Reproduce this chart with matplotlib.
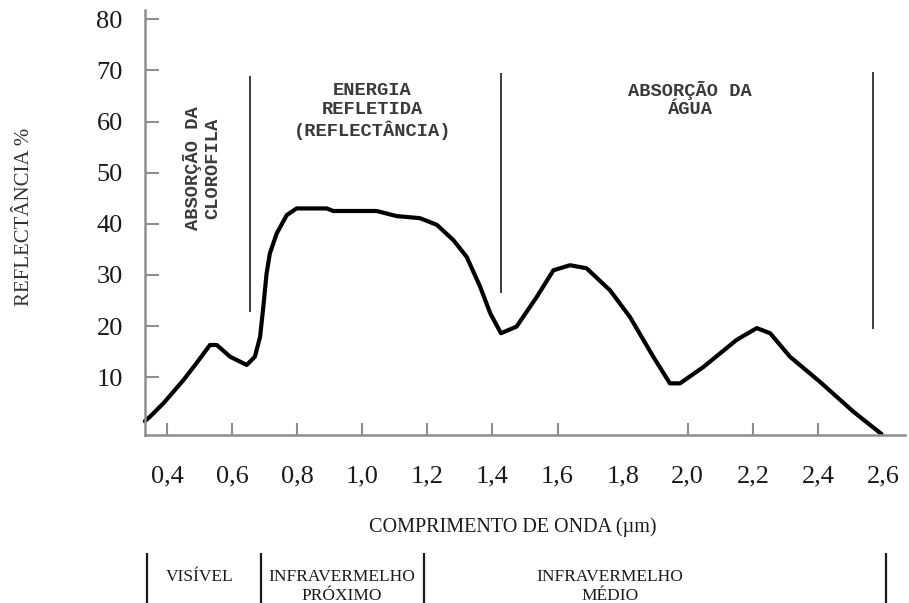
#!/usr/bin/env python3
"""Curva de reflectância espectral da vegetação (recriação do gráfico)."""

import matplotlib.pyplot as plt
from matplotlib.transforms import blended_transform_factory

# valores (comprimento de onda em µm, reflectância em %)
wavelength = [0.332, 0.348, 0.389, 0.450, 0.490, 0.532, 0.553, 0.594, 0.645,
              0.670, 0.686, 0.696, 0.706, 0.716, 0.737, 0.768, 0.798, 0.891,
              0.911, 1.044, 1.106, 1.177, 1.229, 1.280, 1.321, 1.362, 1.393,
              1.426, 1.474, 1.536, 1.587, 1.638, 1.689, 1.761, 1.822, 1.894,
              1.945, 1.976, 2.048, 2.150, 2.212, 2.253, 2.314, 2.406, 2.508,
              2.595]
reflectance = [1.4, 2.3, 4.9, 9.4, 12.7, 16.3, 16.3, 14.0, 12.4,
               14.0, 17.9, 23.8, 30.3, 34.2, 38.1, 41.7, 43.0, 43.0,
               42.5, 42.5, 41.5, 41.1, 39.8, 36.8, 33.5, 27.7, 22.5,
               18.6, 19.9, 25.7, 30.9, 31.9, 31.3, 27.0, 21.8, 14.0,
               8.8, 8.8, 12.0, 17.3, 19.6, 18.6, 14.0, 9.1, 3.3,
               -1.1]

x_ticks = [0.4, 0.6, 0.8, 1.0, 1.2, 1.4, 1.6, 1.8, 2.0, 2.2, 2.4, 2.6]
x_tick_labels = ["0,4", "0,6", "0,8", "1,0", "1,2", "1,4", "1,6", "1,8",
                 "2,0", "2,2", "2,4", "2,6"]
y_ticks = [10, 20, 30, 40, 50, 60, 70, 80]

# linhas verticais que separam as zonas de absorção
separator_x = [0.655, 1.425, 2.568]
separator_top = [68.9, 69.5, 69.7]
separator_bottom = [22.7, 26.5, 19.4]

# faixas do espectro (rodapé)
region_edges = [0.34, 0.69, 1.19, 2.61]
region_names = ["VISÍVEL", "INFRAVERMELHO\nPRÓXIMO", "INFRAVERMELHO\nMÉDIO"]

SERIF = ["Liberation Serif", "DejaVu Serif"]
MONO = ["Liberation Mono", "DejaVu Sans Mono"]
AXIS_GRAY = "#8e8e8e"
INK = "#1a1a1a"


def main():
    fig = plt.figure(figsize=(9.09, 6.03), dpi=100)
    ax = fig.add_axes([0.1595, 0.2786, 0.836, 0.7048])
    ax.set_xlim(0.3324, 2.667)
    ax.set_ylim(-1.3, 81.8)

    for side in ("top", "right"):
        ax.spines[side].set_visible(False)
    for side in ("left", "bottom"):
        ax.spines[side].set_color(AXIS_GRAY)
        ax.spines[side].set_linewidth(1.8)

    ax.plot(wavelength, reflectance, color="black", lw=3.0,
            solid_joinstyle="round", solid_capstyle="round", clip_on=False)

    ax.vlines(separator_x, separator_bottom, separator_top, color=INK, lw=1.2)

    # eixos
    ax.set_xticks(x_ticks, x_tick_labels)
    ax.set_yticks(y_ticks)
    ax.tick_params(axis="x", direction="in", length=9, width=1.5,
                   color=AXIS_GRAY, pad=22, labelsize=19, labelcolor=INK)
    ax.tick_params(axis="y", direction="in", length=10, width=1.5,
                   color=AXIS_GRAY, pad=16, labelsize=19, labelcolor=INK)
    for t in ax.get_xticklabels() + ax.get_yticklabels():
        t.set_family(SERIF)
    for tick, v in zip(ax.xaxis.get_major_ticks(), x_ticks):
        if v in (1.8, 2.6):
            tick.tick1line.set_visible(False)

    ax.set_xlabel("COMPRIMENTO DE ONDA (µm)", family=SERIF, fontsize=14.5,
                  color=INK, va="center")
    ax.xaxis.set_label_coords(0.484, -0.2165)
    ax.set_ylabel("REFLECTÂNCIA %", family=SERIF, fontsize=15, color="#333333",
                  va="center")
    ax.yaxis.set_label_coords(-0.158, 0.513)

    # anotações no topo
    note = dict(family=MONO, fontsize=13.5, weight="bold", color="#3a3a3a",
                linespacing=1.15, ha="center", va="center")
    ax.text(0.509, 50.9, "ABSORÇÃO DA\nCLOROFILA", rotation=90, **note)
    ax.text(1.031, 62.0, "ENERGIA\nREFLETIDA\n(REFLECTÂNCIA)", **note)
    ax.text(2.007, 64.3, "ABSORÇÃO DA\nÁGUA", **note)

    # rodapé com as faixas do espectro
    trans = blended_transform_factory(ax.transData, ax.transAxes)
    ax.vlines(region_edges, -0.278, -0.40, transform=trans, color=INK,
              lw=1.6, clip_on=False)
    region_x = [0.501, 0.936, 1.761]
    for x, name in zip(region_x, region_names):
        ax.text(x, -0.315, name, transform=trans, ha="center", va="top",
                family=SERIF, fontsize=12.5, color=INK, linespacing=1.25,
                clip_on=False)

    fig.savefig("out.png", dpi=100)
    plt.close(fig)


if __name__ == "__main__":
    main()
